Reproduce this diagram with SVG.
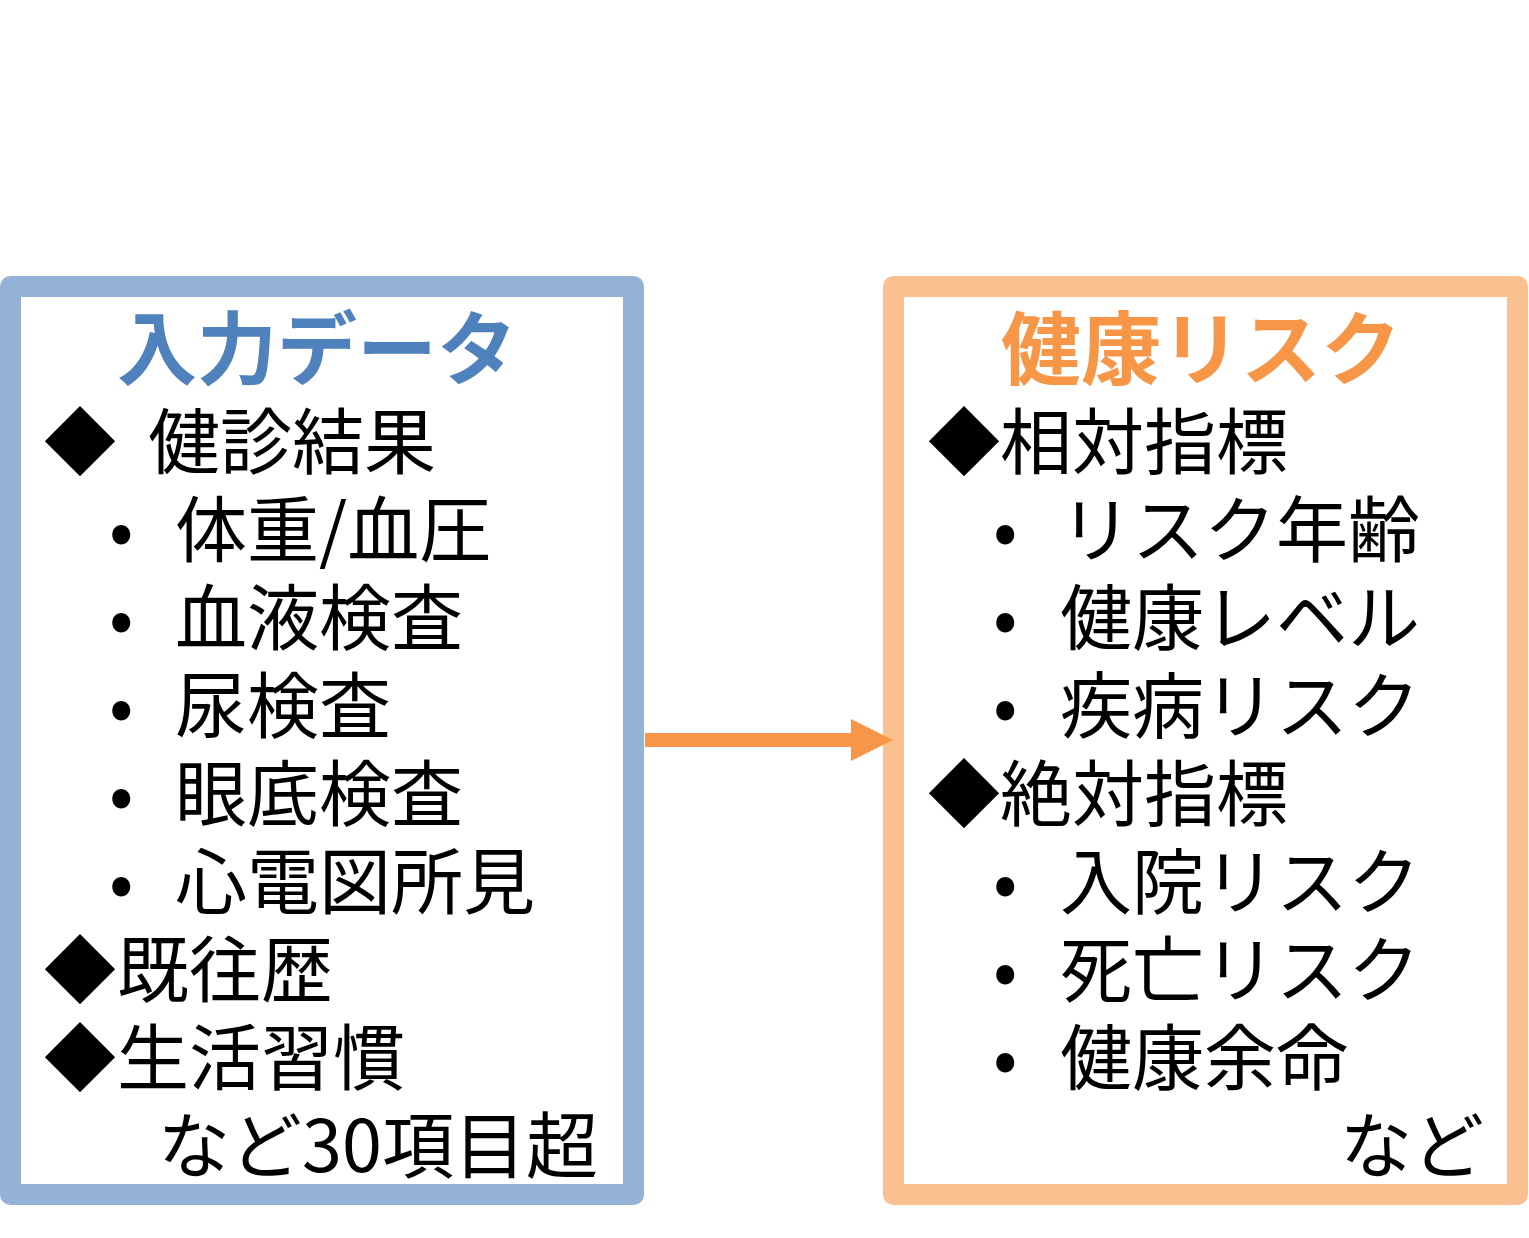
<svg xmlns="http://www.w3.org/2000/svg" width="1529" height="1238" viewBox="0 0 1529 1238">
<style>
.box{fill:#FFFFFF;stroke-width:21;stroke-linejoin:round}
.t{font-family:"Noto Sans CJK JP","Noto Sans CJK SC",sans-serif;font-size:72px;fill:#000000}
.title{font-family:"Noto Sans CJK JP","Noto Sans CJK SC",sans-serif;font-size:80px;font-weight:bold;text-anchor:middle}
</style>
<defs>
<marker id="ah" viewBox="0 0 42 42" refX="0" refY="21" markerWidth="42" markerHeight="42" markerUnits="userSpaceOnUse" orient="auto">
<path d="M0,0 L42,21 L0,42 Z" fill="#F79646"/>
</marker>
</defs>
<rect width="1529" height="1238" fill="#FFFFFF"/>
<g id="input-data">
<rect class="box" x="10.5" y="286.5" width="623" height="908" stroke="#95B3D7"/>
<text class="title" x="317" y="378" fill="#4F81BD">入力データ</text>
<text class="t" x="44" y="468">◆</text><text class="t" x="148" y="468">健診結果</text>
<text class="t" x="109" y="556">•</text><text class="t" x="175" y="556">体重/血圧</text>
<text class="t" x="109" y="644">•</text><text class="t" x="175" y="644">血液検査</text>
<text class="t" x="109" y="732">•</text><text class="t" x="175" y="732">尿検査</text>
<text class="t" x="109" y="820">•</text><text class="t" x="175" y="820">眼底検査</text>
<text class="t" x="109" y="908">•</text><text class="t" x="175" y="908">心電図所見</text>
<text class="t" x="44" y="996">◆</text><text class="t" x="117" y="996">既往歴</text>
<text class="t" x="44" y="1084">◆</text><text class="t" x="117" y="1084">生活習慣</text>
<text class="t" x="158" y="1172">など30項目超</text>
</g>
<g id="health-risk">
<rect class="box" x="893.5" y="286.5" width="624" height="908" stroke="#FAC090"/>
<text class="title" x="1201" y="378" fill="#F79646">健康リスク</text>
<text class="t" x="928" y="468">◆</text><text class="t" x="1000" y="468">相対指標</text>
<text class="t" x="993" y="556">•</text><text class="t" x="1060" y="556">リスク年齢</text>
<text class="t" x="993" y="644">•</text><text class="t" x="1060" y="644">健康レベル</text>
<text class="t" x="993" y="732">•</text><text class="t" x="1060" y="732">疾病リスク</text>
<text class="t" x="928" y="820">◆</text><text class="t" x="1000" y="820">絶対指標</text>
<text class="t" x="993" y="908">•</text><text class="t" x="1060" y="908">入院リスク</text>
<text class="t" x="993" y="996">•</text><text class="t" x="1060" y="996">死亡リスク</text>
<text class="t" x="993" y="1084">•</text><text class="t" x="1060" y="1084">健康余命</text>
<text class="t" x="1340" y="1172">など</text>
</g>
<g id="connectors">
<line x1="645" y1="740" x2="851" y2="740" stroke="#F79646" stroke-width="14" marker-end="url(#ah)"/>
</g>
</svg>
